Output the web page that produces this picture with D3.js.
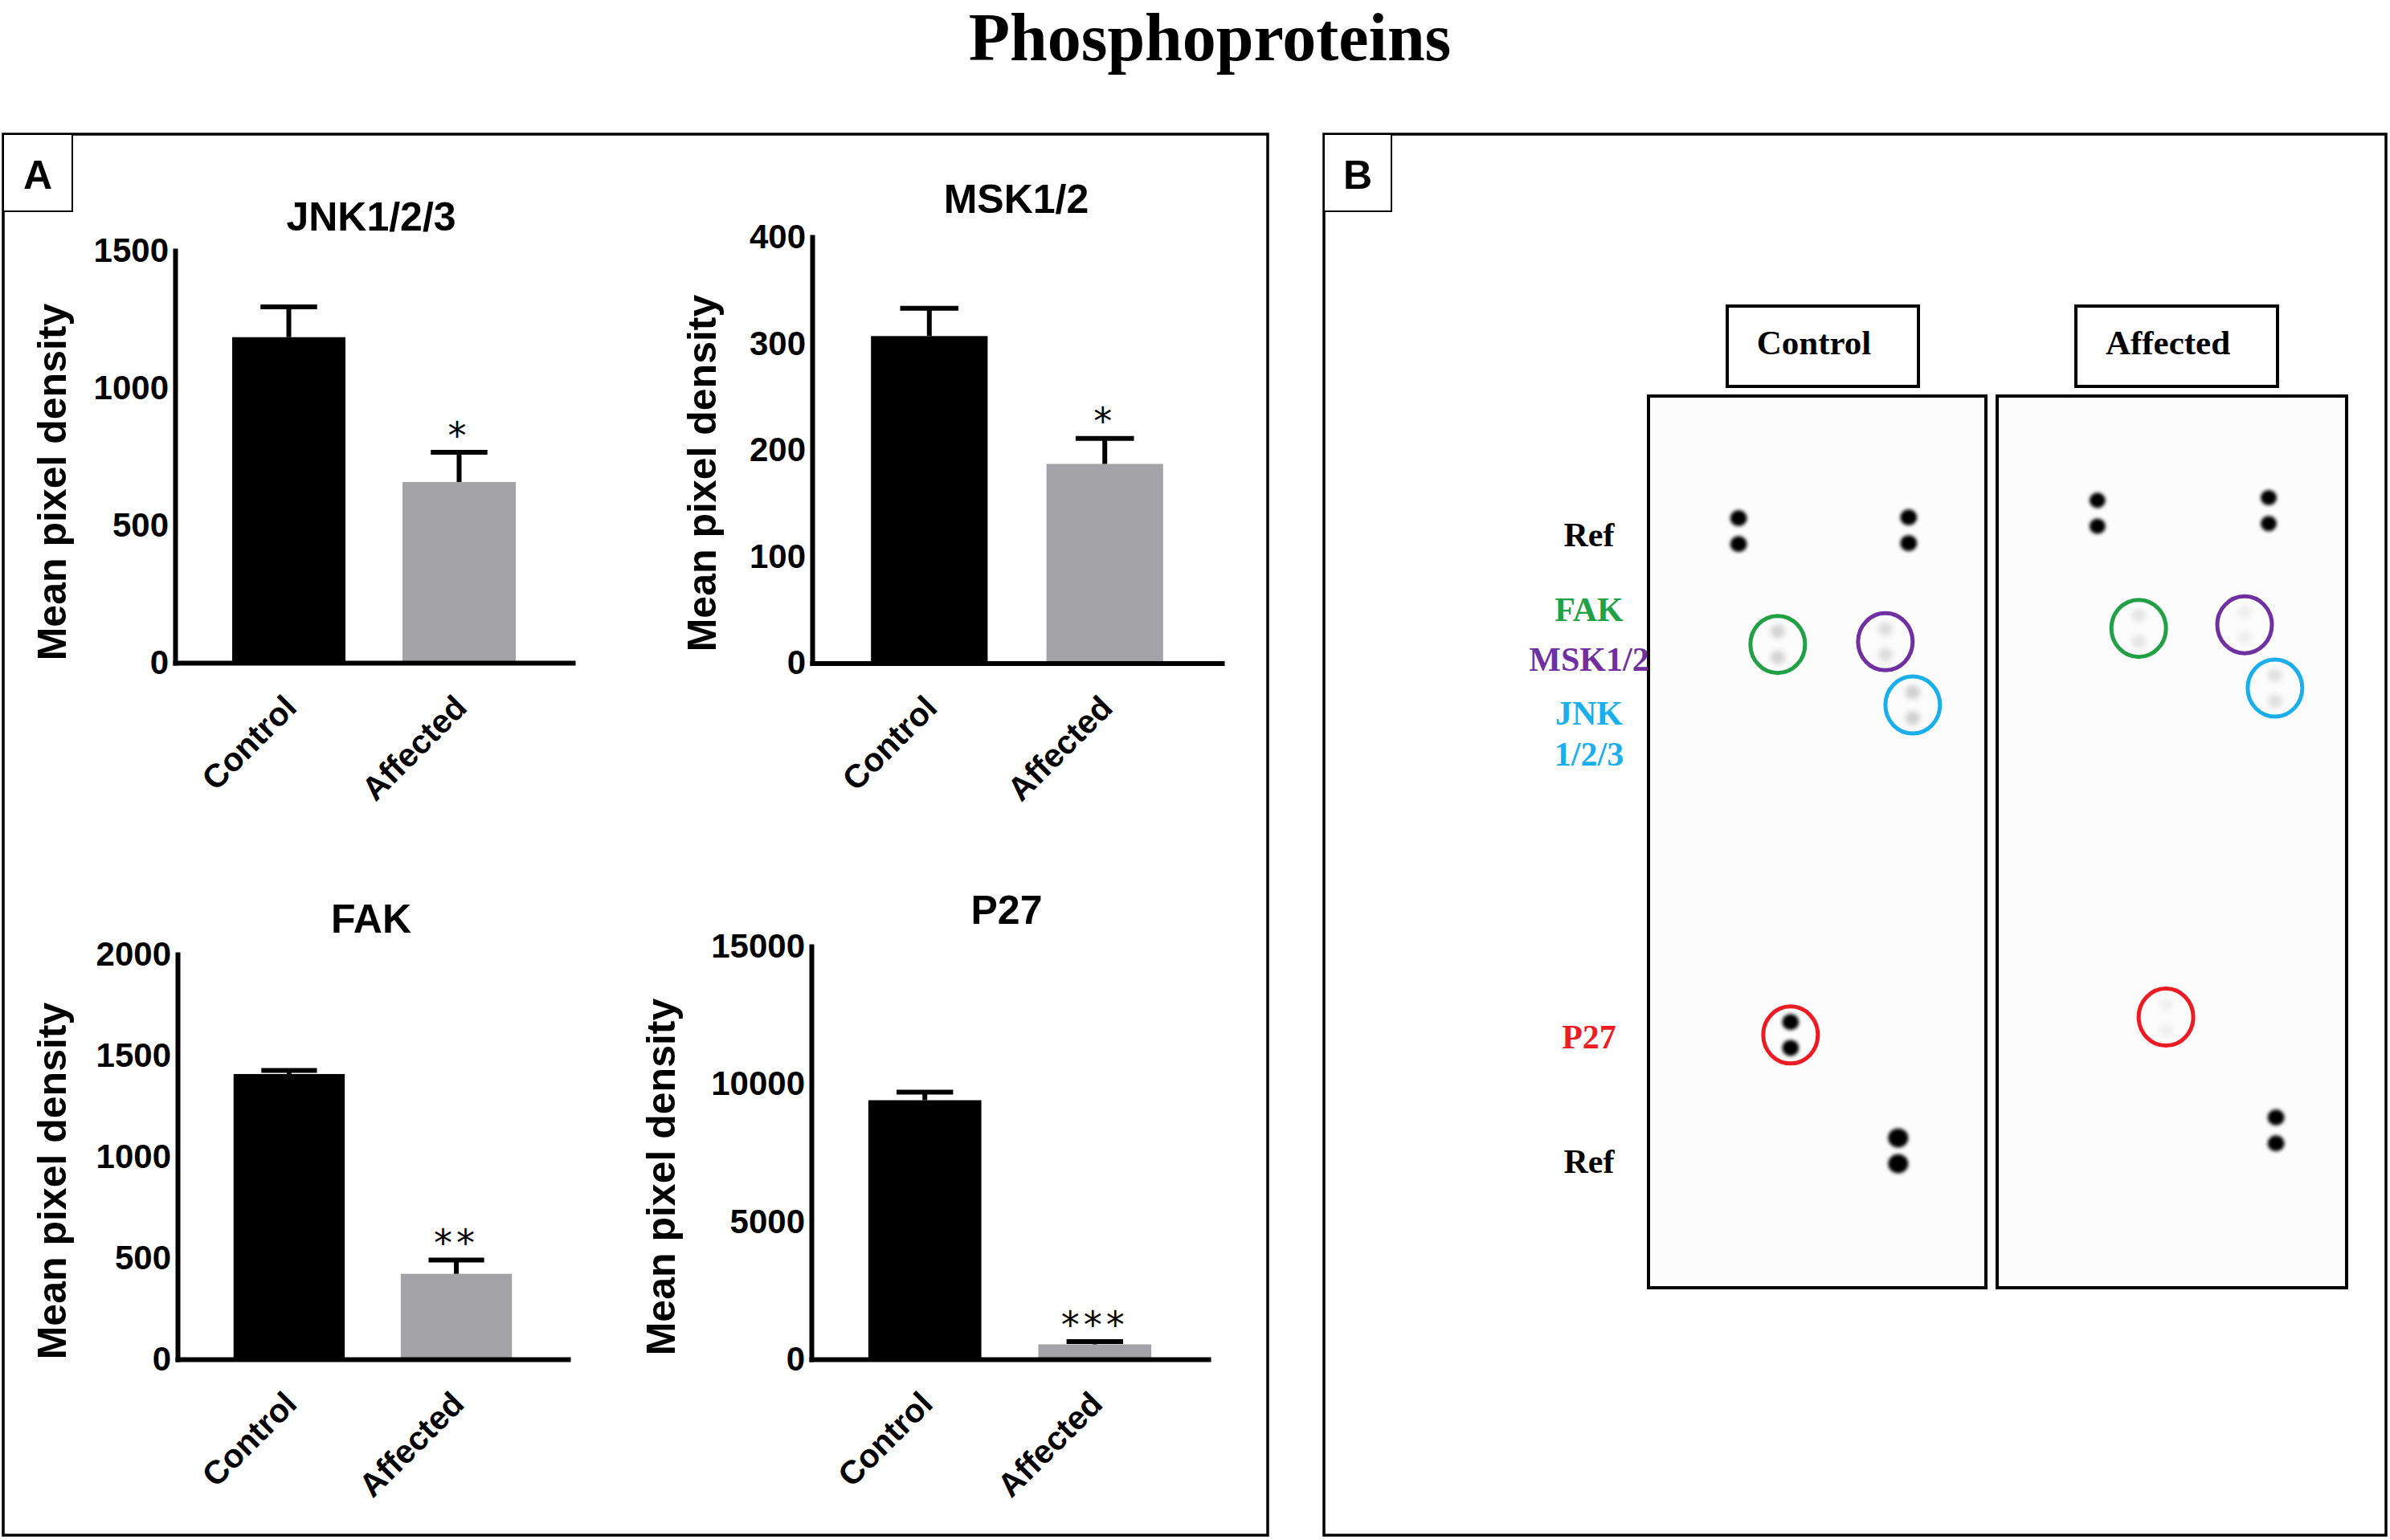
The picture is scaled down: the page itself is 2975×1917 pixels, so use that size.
<!DOCTYPE html>
<html><head><meta charset="utf-8">
<script src="https://cdn.jsdelivr.net/npm/d3@7"></script>
<style>html,body{margin:0;padding:0;background:#fff}svg{display:block}</style>
</head><body>
<svg id="fig" width="2975" height="1917"></svg>
<script>
// ---------------- DATA ----------------
const figureTitle = "Phosphoproteins";
const panelLetters = ["A", "B"];
const chartTitles = ["JNK1/2/3", "MSK1/2", "FAK", "P27"];
const categories = ["Control", "Affected"];
const jnkMean = [1185, 658],  jnkSem = [110, 108];
const mskMean = [307, 187],   mskSem = [26, 24];
const fakMean = [1409, 422],  fakSem = [18, 68];
const p27Mean = [9410, 540],  p27Sem = [290, 100];
const meanValues = [jnkMean, mskMean, fakMean, p27Mean];
const semValues = [jnkSem, mskSem, fakSem, p27Sem];
const yMaxValues = [1500, 400, 2000, 15000];
const yTickValues = [[0, 500, 1000, 1500], [0, 100, 200, 300, 400], [0, 500, 1000, 1500, 2000], [0, 5000, 10000, 15000]];
const significance = ["*", "*", "**", "***"];
const yAxisLabel = "Mean pixel density";

// blot (panel B)
const blotColumns = ["Control", "Affected"];
const rowLabels = ["Ref", "FAK", "MSK1/2", "JNK", "1/2/3", "P27", "Ref"];
const rowLabelTarget = ["Ref", "FAK", "MSK1/2", "JNK1/2/3", "JNK1/2/3", "P27", "Ref"];
const spotTargets = ["Ref", "Ref", "FAK", "MSK1/2", "JNK1/2/3", "P27", "Ref"];
const spotIntensityControl = [1, 1, 0.18, 0.14, 0.2, 1, 1];
const spotIntensityAffected = [1, 1, 0.11, 0.07, 0.13, 0.06, 1];
const circledTargets = ["FAK", "MSK1/2", "JNK1/2/3", "P27"];

// ---------------- LAYOUT / STYLE ----------------
const sans = "'Liberation Sans', Arial, Helvetica, sans-serif";
const serif = "'Liberation Serif', 'Times New Roman', Times, serif";
const starFont = "'DejaVu Sans', sans-serif";
const barColors = ["#000000", "#a3a2a7"];
const targetColors = {"Ref": "#000000", "FAK": "#22a046", "MSK1/2": "#7030a0", "JNK1/2/3": "#1aaeea", "P27": "#ec1c24"};

const chartLayout = [
  {x0: 218,  x1: 713,  yBase: 825,   yTop: 312,  titleX: 462,  titleY: 287,  labX: 82,  labY: 600},
  {x0: 1011, x1: 1521, yBase: 825.5, yTop: 295,  titleX: 1265, titleY: 265,  labX: 891, labY: 589},
  {x0: 221,  x1: 707,  yBase: 1692,  yTop: 1188, titleX: 462,  titleY: 1161, labX: 82,  labY: 1470},
  {x0: 1010, x1: 1504, yBase: 1692,  yTop: 1178, titleX: 1253, titleY: 1150, labX: 840, labY: 1465}
];
const panelBoxes = [
  {x: 4, y: 167, w: 1574, h: 1744, lx: 4, ly: 167, lw: 86, lh: 96},
  {x: 1648, y: 167, w: 1322, h: 1744, lx: 1648, ly: 167, lw: 84, lh: 96}
];
const blotLayout = [
  {x: 2052, y: 493, w: 420, h: 1110, hx: 2150, hy: 381, hw: 238, hh: 100,
   spots: [[0.267,0.137],[0.771,0.136],[0.383,0.264],[0.702,0.261],[0.783,0.332],[0.421,0.702],[0.740,0.832]],
   radius: [10.5, 10.5, 9, 9, 9, 10.5, 12.5]},
  {x: 2486, y: 493, w: 435, h: 1110, hx: 2584, hy: 381, hw: 251, hh: 100,
   spots: [[0.287,0.117],[0.777,0.114],[0.405,0.246],[0.708,0.242],[0.795,0.313],[0.483,0.682],[0.798,0.809]],
   radius: [10, 10, 9, 9, 9, 9, 10.5]}
];
const spotPairGap = 0.029;
const rowLabelX = 1978;
const rowLabelY = [679.5, 773, 835, 902, 953, 1305, 1460];

// ---------------- DRAW ----------------
const svg = d3.select("#fig");
svg.append("rect").attr("width", 2975).attr("height", 1917).attr("fill", "#fff");

const defs = svg.append("defs");
defs.append("filter").attr("id", "blur").attr("x", "-50%").attr("y", "-50%").attr("width", "200%").attr("height", "200%")
  .append("feGaussianBlur").attr("stdDeviation", 2.2);
defs.append("filter").attr("id", "blurSoft").attr("x", "-50%").attr("y", "-50%").attr("width", "200%").attr("height", "200%")
  .append("feGaussianBlur").attr("stdDeviation", 3.5);

// figure title
svg.append("text").attr("x", 1506).attr("y", 75).attr("text-anchor", "middle")
  .attr("font-family", serif).attr("font-weight", "bold").attr("font-size", 84)
  .text(figureTitle);

// panel boxes & letters
panelBoxes.forEach((p, i) => {
  svg.append("rect").attr("x", p.x).attr("y", p.y).attr("width", p.w).attr("height", p.h)
    .attr("fill", "none").attr("stroke", "#000").attr("stroke-width", 3.5);
  svg.append("rect").attr("x", p.lx).attr("y", p.ly).attr("width", p.lw).attr("height", p.lh)
    .attr("fill", "#fff").attr("stroke", "#000").attr("stroke-width", 2);
  svg.append("text").attr("x", p.lx + p.lw / 2).attr("y", p.ly + 68).attr("text-anchor", "middle")
    .attr("font-family", sans).attr("font-weight", "bold").attr("font-size", 50)
    .text(panelLetters[i]);
});

// bar charts
chartLayout.forEach((L, i) => {
  const g = svg.append("g");
  const x = d3.scaleBand().domain(categories).range([L.x0, L.x1]).paddingInner(0.335).paddingOuter(0.335);
  const y = d3.scaleLinear().domain([0, yMaxValues[i]]).range([L.yBase, L.yTop]);
  const rows = categories.map((c, k) => ({cat: c, mean: meanValues[i][k], sem: semValues[i][k], k}));

  // bars
  g.selectAll("rect.bar").data(rows).join("rect").attr("class", "bar")
    .attr("x", d => x(d.cat)).attr("width", x.bandwidth())
    .attr("y", d => y(d.mean)).attr("height", d => y(0) - y(d.mean))
    .attr("fill", d => barColors[d.k]);

  // error bars (upward only)
  const bw = x.bandwidth();
  g.selectAll("line.err").data(rows).join("line").attr("class", "err")
    .attr("x1", d => x(d.cat) + bw / 2).attr("x2", d => x(d.cat) + bw / 2)
    .attr("y1", d => y(d.mean)).attr("y2", d => y(d.mean + d.sem))
    .attr("stroke", "#000").attr("stroke-width", 6);
  g.selectAll("line.cap").data(rows).join("line").attr("class", "cap")
    .attr("x1", d => x(d.cat) + bw / 4).attr("x2", d => x(d.cat) + bw * 3 / 4)
    .attr("y1", d => y(d.mean + d.sem)).attr("y2", d => y(d.mean + d.sem))
    .attr("stroke", "#000").attr("stroke-width", 6);

  // significance
  const aff = rows[1];
  g.append("text").attr("x", x(aff.cat) + bw / 2).attr("y", y(aff.mean + aff.sem) - 31)
    .attr("dy", "0.555em").attr("text-anchor", "middle")
    .attr("font-family", starFont).attr("font-size", 46).attr("letter-spacing", 5)
    .text(significance[i]);

  // axes
  const yAxis = d3.axisLeft(y).tickValues(yTickValues[i]).tickSize(0).tickSizeOuter(0)
    .tickPadding(8).tickFormat(d3.format("d"));
  const ga = g.append("g").attr("transform", `translate(${L.x0},0)`).call(yAxis);
  ga.select(".domain").attr("stroke-width", 6).attr("stroke-linecap", "square");
  ga.selectAll(".tick text").attr("font-family", sans).attr("font-weight", "bold").attr("font-size", 42).attr("fill", "#000");

  const xAxis = d3.axisBottom(x).tickSize(0).tickSizeOuter(0);
  const gx = g.append("g").attr("transform", `translate(0,${L.yBase})`).call(xAxis);
  gx.select(".domain").attr("stroke-width", 6).attr("stroke-linecap", "square");
  gx.selectAll(".tick text").attr("y", 0).attr("dy", 0)
    .attr("text-anchor", "end").attr("transform", "translate(12,58) rotate(-45)")
    .attr("font-family", sans).attr("font-weight", "bold").attr("font-size", 41).attr("fill", "#000");

  // title
  g.append("text").attr("x", L.titleX).attr("y", L.titleY).attr("text-anchor", "middle")
    .attr("font-family", sans).attr("font-weight", "bold").attr("font-size", 50)
    .text(chartTitles[i]);

  // y label
  g.append("text").attr("transform", `translate(${L.labX},${L.labY}) rotate(-90)`)
    .attr("text-anchor", "middle").attr("font-family", sans).attr("font-weight", "bold").attr("font-size", 50)
    .text(yAxisLabel);
});

// ---- panel B: blot ----
const intensities = [spotIntensityControl, spotIntensityAffected];
blotLayout.forEach((B, j) => {
  const g = svg.append("g");
  const fx = d3.scaleLinear().domain([0, 1]).range([B.x, B.x + B.w]);
  const fy = d3.scaleLinear().domain([0, 1]).range([B.y, B.y + B.h]);
  const shade = d3.scaleLinear().domain([0, 1]).range(["#ffffff", "#050505"]);

  // header box
  g.append("rect").attr("x", B.hx).attr("y", B.hy).attr("width", B.hw).attr("height", B.hh)
    .attr("fill", "#fff").attr("stroke", "#000").attr("stroke-width", 4);
  g.append("text").attr("x", B.hx + B.hw / 2 - 11).attr("y", B.hy + 60).attr("text-anchor", "middle")
    .attr("font-family", serif).attr("font-weight", "bold").attr("font-size", 43)
    .text(blotColumns[j]);

  // membrane
  g.append("rect").attr("x", B.x).attr("y", B.y).attr("width", B.w).attr("height", B.h)
    .attr("fill", "#fcfcfc").attr("stroke", "#000").attr("stroke-width", 4);

  // spots (duplicate pairs)
  const spots = [];
  B.spots.forEach((p, k) => {
    [0, 1].forEach(r => spots.push({k, t: spotTargets[k], cx: fx(p[0]), cy: fy(p[1] + r * spotPairGap),
      r: B.radius[k], v: intensities[j][k]}));
  });
  g.selectAll("ellipse.spot").data(spots).join("ellipse").attr("class", "spot")
    .attr("cx", d => d.cx).attr("cy", d => d.cy)
    .attr("rx", d => d.r).attr("ry", d => d.r * 0.95)
    .attr("fill", d => shade(d.v))
    .attr("filter", d => d.v > 0.5 ? "url(#blur)" : "url(#blurSoft)");

  // circles around targets
  const circ = circledTargets.map(t => {
    const k = spotTargets.indexOf(t);
    const p = B.spots[k];
    return {t, cx: fx(p[0]), cy: fy(p[1] + spotPairGap / 2)};
  });
  g.selectAll("ellipse.ring").data(circ).join("ellipse").attr("class", "ring")
    .attr("cx", d => d.cx).attr("cy", d => d.cy).attr("rx", 34).attr("ry", 35.5)
    .attr("fill", "none").attr("stroke", d => targetColors[d.t]).attr("stroke-width", 5);
});

// row labels
svg.append("g").selectAll("text").data(rowLabels).join("text")
  .attr("x", rowLabelX).attr("y", (d, i) => rowLabelY[i]).attr("text-anchor", "middle")
  .attr("font-family", serif).attr("font-weight", "bold").attr("font-size", 42)
  .attr("fill", (d, i) => targetColors[rowLabelTarget[i]])
  .text(d => d);
</script>
</body></html>
